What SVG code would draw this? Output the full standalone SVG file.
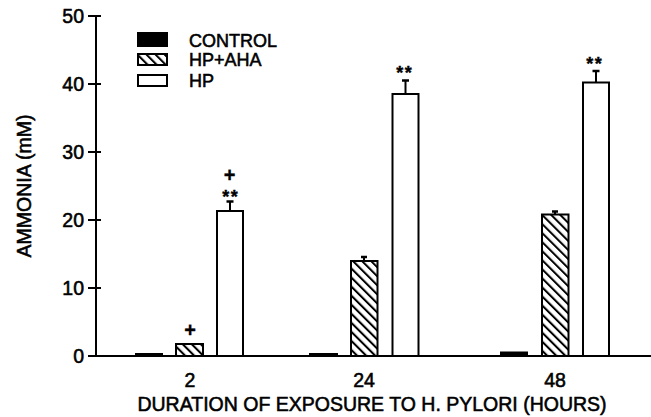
<svg xmlns="http://www.w3.org/2000/svg" width="651" height="417" viewBox="0 0 651 417">
<style>
text{font-family:"Liberation Sans",Arial,Helvetica,sans-serif;fill:#000;stroke:#000;stroke-width:0.55}
.tick{font-size:19.5px;text-anchor:end}
.xl{font-size:19.5px;text-anchor:middle}
.leg{font-size:18px}
.mark{font-size:20px;font-weight:bold;text-anchor:middle;stroke-width:0.3}
.star{font-size:18px;font-weight:bold;text-anchor:middle;letter-spacing:1.5px;stroke-width:0.4}
.ax{stroke:#000;stroke-width:2;fill:none}
.bar{stroke:#000;stroke-width:2;fill:#fff}
.hat{stroke:#000;stroke-width:2;fill:url(#hatch)}
.blk{fill:#000;stroke:#000;stroke-width:1}
.err{stroke:#000;stroke-width:2;fill:none}
.cap{stroke:#000;stroke-width:2.5;fill:none}
</style>
<defs>
<pattern id="hatch" patternUnits="userSpaceOnUse" width="6.4" height="10" patternTransform="rotate(-45)">
<rect width="6.4" height="10" fill="#fff"/>
<line x1="1" y1="0" x2="1" y2="10" stroke="#000" stroke-width="2.1"/>
</pattern>
</defs>
<g id="axes">
<line class="ax" x1="96" y1="15" x2="96" y2="357"/>
<line class="ax" x1="88" y1="356" x2="651" y2="356"/>
<line class="ax" x1="88" y1="288" x2="101" y2="288"/>
<line class="ax" x1="88" y1="220" x2="101" y2="220"/>
<line class="ax" x1="88" y1="152" x2="101" y2="152"/>
<line class="ax" x1="88" y1="84" x2="101" y2="84"/>
<line class="ax" x1="88" y1="16" x2="101" y2="16"/>
<text class="tick" x="84" y="363">0</text>
<text class="tick" x="84" y="295">10</text>
<text class="tick" x="84" y="227">20</text>
<text class="tick" x="84" y="159">30</text>
<text class="tick" x="84" y="91">40</text>
<text class="tick" x="84" y="23">50</text>
<text class="xl" x="190" y="387">2</text>
<text class="xl" x="364" y="387">24</text>
<text class="xl" x="555" y="387">48</text>
<text class="xl" x="372" y="411">DURATION OF EXPOSURE TO H. PYLORI (HOURS)</text>
<text class="xl" transform="translate(31,186) rotate(-90)">AMMONIA (mM)</text>
</g>
<g id="legend">
<rect class="blk" x="137.5" y="32.5" width="30" height="14"/>
<rect class="hat" x="138" y="54" width="29" height="11"/>
<rect class="bar" x="138" y="75" width="29" height="11"/>
<text class="leg" x="189" y="47">CONTROL</text>
<text class="leg" x="189" y="66">HP+AHA</text>
<text class="leg" x="189" y="87">HP</text>
</g>
<g id="group-2">
<rect class="blk" x="135.5" y="353.5" width="27" height="2.5"/>
<rect class="hat" x="176" y="344" width="27" height="12"/>
<rect class="bar" x="217" y="211" width="26" height="145"/>
<line class="err" x1="230" y1="211" x2="230" y2="201"/>
<line class="cap" x1="226.5" y1="201.5" x2="233.5" y2="201.5"/>
<text class="star" x="230.8" y="202.5">**</text>
<text class="mark" x="229.5" y="181.5">+</text>
<text class="mark" x="190" y="336.5">+</text>
</g>
<g id="group-24">
<rect class="blk" x="309.5" y="353.5" width="28" height="2.5"/>
<rect class="hat" x="351" y="261" width="26.5" height="95"/>
<line class="err" x1="364" y1="261" x2="364" y2="256.5"/>
<line class="cap" x1="361" y1="257" x2="367" y2="257"/>
<rect class="bar" x="392.5" y="94" width="26" height="262"/>
<line class="err" x1="405.5" y1="94" x2="405.5" y2="80"/>
<line class="cap" x1="402" y1="80.5" x2="409" y2="80.5"/>
<text class="star" x="404.8" y="78.5">**</text>
</g>
<g id="group-48">
<rect class="blk" x="500.5" y="352" width="27" height="4"/>
<rect class="hat" x="542" y="214.5" width="26.5" height="141.5"/>
<line class="err" x1="555" y1="214.5" x2="555" y2="211"/>
<line class="cap" x1="552" y1="211.5" x2="558" y2="211.5"/>
<rect class="bar" x="583" y="82.5" width="26" height="273.5"/>
<line class="err" x1="596" y1="82.5" x2="596" y2="70.5"/>
<line class="cap" x1="592.5" y1="71" x2="599.5" y2="71"/>
<text class="star" x="594.8" y="69.8">**</text>
</g>
</svg>
